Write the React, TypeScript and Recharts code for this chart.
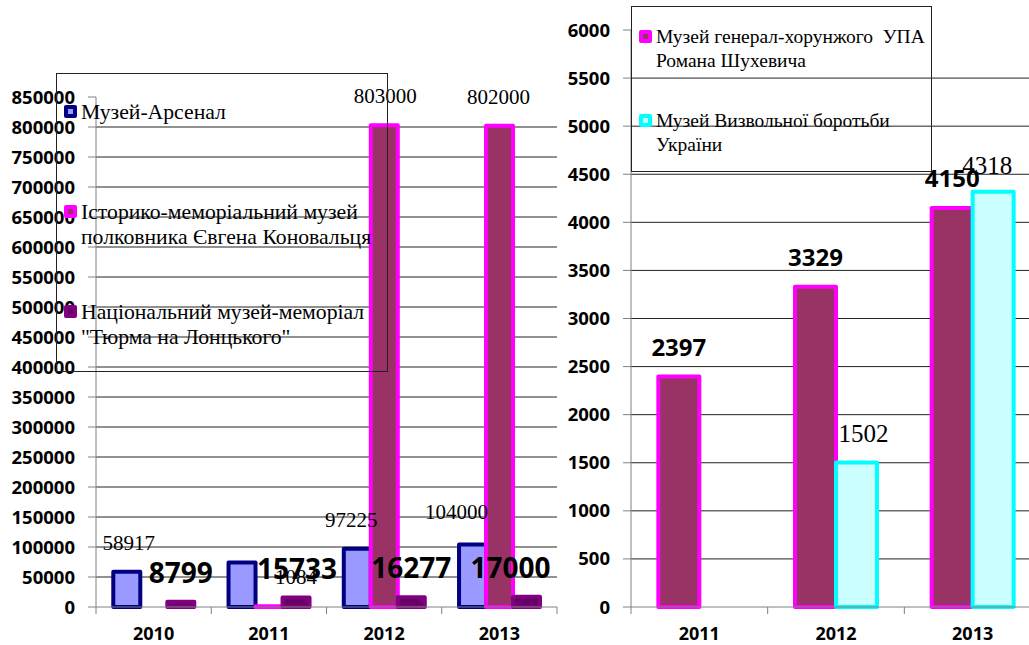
import React from "react";
import { BarChart, Bar, XAxis, YAxis, CartesianGrid, Legend, LabelList } from "recharts";

// left chart: visitors 2010-2013
const LEFT_YEARS = ["2010", "2011", "2012", "2013"];
const ARSENAL = [58917, 74000, 97225, 104000];
const KONOVALETS = [null, 1084, 803000, 802000];
const LONTSKOHO = [8799, 15733, 16277, 17000];
const LEFT_TICKS = [
  0, 50000, 100000, 150000, 200000, 250000, 300000, 350000, 400000, 450000,
  500000, 550000, 600000, 650000, 700000, 750000, 800000, 850000,
];

// right chart: 2011-2013
const RIGHT_YEARS = ["2011", "2012", "2013"];
const SHUKHEVYCH = [2397, 3329, 4150];
const VYZVOLNOI = [null, 1502, 4318];
const RIGHT_TICKS = [0, 500, 1000, 1500, 2000, 2500, 3000, 3500, 4000, 4500, 5000, 5500, 6000];

const NAMES = {
  arsenal: "Музей-Арсенал",
  konovalets: "Історико-меморіальний музей\nполковника Євгена Коновальця",
  lontskoho: "Національний музей-меморіал\n\"Тюрма на Лонцького\"",
  shukhevych: "Музей генерал-хорунжого  УПА\nРомана Шухевича",
  vyzvolnoi: "Музей Визвольної боротьби\nУкраїни",
};

const SERIES_VALUES: Record<string, (number | null)[]> = {
  arsenal: ARSENAL,
  konovalets: KONOVALETS,
  lontskoho: LONTSKOHO,
  shukhevych: SHUKHEVYCH,
  vyzvolnoi: VYZVOLNOI,
};

const leftData = LEFT_YEARS.map((year, i) => ({
  year,
  arsenal: ARSENAL[i],
  konovalets: KONOVALETS[i],
  lontskoho: LONTSKOHO[i],
}));

const rightData = RIGHT_YEARS.map((year, i) => ({
  year,
  shukhevych: SHUKHEVYCH[i],
  vyzvolnoi: VYZVOLNOI[i],
}));

const SANS = "'Open Sans', 'Liberation Sans', sans-serif";
const SERIF = "'Liberation Serif', 'Times New Roman', serif";
const AXIS_GREY = "#808080";

// layout
const LEFT_W = 580;
const LEFT_YAXIS_W = 96;
const LEFT_MARGIN = { top: 97, right: 23, left: 0, bottom: 0 };
const RIGHT_W = 491;
const RIGHT_YAXIS_W = 71;
const RIGHT_MARGIN = { top: 30, right: 10, left: 0, bottom: 0 };
const CHART_H = 645;

// hand-moved labels in the original (dx, dy), by category position
const NUDGE: Record<string, [number, number][]> = {
  arsenal: [[2, 0], [0, 0], [-6, 0], [-16, -4]],
  konovalets: [[0, 0], [27, 0], [1, 0], [-1, 0]],
  lontskoho: [[0, 0], [1, 0], [0, 0], [-16, 0]],
  shukhevych: [[0, 0], [0, 0], [0, 0]],
  vyzvolnoi: [[0, 0], [7, 0], [-6, 3]],
};

function makeLabel(key: string, bold: boolean, size: number, hide: number[] = []) {
  // eslint-disable-next-line @typescript-eslint/no-explicit-any
  return (props: any) => {
    const { x, y, width, value } = props;
    if (value == null) return null;
    // LabelList skips null points, so find the category from the value itself
    const cat = SERIES_VALUES[key].indexOf(Number(value));
    if (hide.includes(cat)) return null;
    const [dx, dy] = NUDGE[key]?.[cat] ?? [0, 0];
    const cap = size * (bold ? 0.714 : 0.66);
    return (
      <text
        x={Number(x) + Number(width) / 2 + dx}
        y={Number(y) - 29 + cap / 2 + dy}
        textAnchor="middle"
        fontFamily={bold ? SANS : SERIF}
        fontWeight={bold ? 700 : 400}
        fontSize={size}
        fill="#000"
      >
        {value}
      </text>
    );
  };
}

function makeXTick(band: number, count: number) {
  // eslint-disable-next-line @typescript-eslint/no-explicit-any
  return (props: any) => {
    const { x, y, payload, index } = props;
    return (
      <g>
        <line x1={x - band / 2} x2={x - band / 2} y1={y} y2={y + 7} stroke={AXIS_GREY} />
        {index === count - 1 && (
          <line x1={x + band / 2} x2={x + band / 2} y1={y} y2={y + 7} stroke={AXIS_GREY} />
        )}
        <text
          x={x}
          y={y + 33}
          textAnchor="middle"
          fontFamily={SANS}
          fontWeight={700}
          fontSize={18}
          fill="#000"
        >
          {payload.value}
        </text>
      </g>
    );
  };
}

interface LegendItem {
  name: string;
  stroke: string;
  fill: string;
}

function LegendBox({
  items,
  slot,
  padTop,
  fontSize,
  lineHeight,
}: {
  items: LegendItem[];
  slot: number;
  padTop: number;
  fontSize: number;
  lineHeight: number;
}) {
  return (
    <div
      style={{
        width: "100%",
        height: "100%",
        boxSizing: "border-box",
        border: "1px solid #222",
      }}
    >
      {items.map((it) => (
        <div
          key={it.name}
          style={{
            height: slot,
            boxSizing: "border-box",
            paddingTop: padTop,
            paddingLeft: 7,
            display: "flex",
            alignItems: "flex-start",
          }}
        >
          <div
            style={{
              width: 13,
              height: 13,
              marginTop: 5,
              marginRight: 4,
              flex: "none",
              borderRadius: 2,
              background: it.stroke,
              display: "flex",
              alignItems: "center",
              justifyContent: "center",
            }}
          >
            <div style={{ width: 5, height: 5, background: it.fill }} />
          </div>
          <span
            style={{
              whiteSpace: "pre",
              fontFamily: SERIF,
              fontSize,
              lineHeight: `${lineHeight}px`,
              color: "#000",
            }}
          >
            {it.name}
          </span>
        </div>
      ))}
    </div>
  );
}

const LEFT_SERIES: (LegendItem & { key: string })[] = [
  { key: "arsenal", name: NAMES.arsenal, stroke: "#000080", fill: "#9999FF" },
  { key: "konovalets", name: NAMES.konovalets, stroke: "#FF00FF", fill: "#993366" },
  { key: "lontskoho", name: NAMES.lontskoho, stroke: "#800080", fill: "#660066" },
];

const RIGHT_SERIES: (LegendItem & { key: string })[] = [
  { key: "shukhevych", name: NAMES.shukhevych, stroke: "#FF00FF", fill: "#993366" },
  { key: "vyzvolnoi", name: NAMES.vyzvolnoi, stroke: "#00FFFF", fill: "#CCFFFF" },
];

const tickStyle = { fontFamily: SANS, fontWeight: 700, fontSize: 18.5, fill: "#000" };

function LeftChart() {
  const band = (LEFT_W - LEFT_YAXIS_W - LEFT_MARGIN.right) / LEFT_YEARS.length;
  return (
    <BarChart
      width={LEFT_W}
      height={CHART_H}
      data={leftData}
      margin={LEFT_MARGIN}
      barGap={0}
      barCategoryGap="15%"
    >
      <CartesianGrid
        vertical={false}
        stroke="#222"
        horizontalValues={LEFT_TICKS.slice(1, -1)}
      />
      <XAxis
        dataKey="year"
        height={38}
        tickSize={0}
        tickMargin={0}
        tickLine={false}
        axisLine={{ stroke: AXIS_GREY }}
        tick={makeXTick(band, LEFT_YEARS.length)}
        interval={0}
      />
      <YAxis
        width={LEFT_YAXIS_W}
        domain={[0, 850000]}
        ticks={LEFT_TICKS}
        interval={0}
        tickSize={8}
        tickMargin={13}
        tick={tickStyle}
        axisLine={{ stroke: AXIS_GREY }}
        tickLine={{ stroke: AXIS_GREY }}
      />
      <Legend
        layout="vertical"
        align="center"
        verticalAlign="middle"
        wrapperStyle={{ left: 56, top: 73, width: 332, height: 299, margin: 0 }}
        content={() => (
          <LegendBox items={LEFT_SERIES} slot={100} padTop={25.5} fontSize={21.7} lineHeight={25} />
        )}
      />
      {LEFT_SERIES.map((s) => (
        <Bar
          key={s.key}
          dataKey={s.key}
          name={s.name}
          fill={s.fill}
          stroke={s.stroke}
          strokeWidth={4}
          strokeLinejoin="round"
          isAnimationActive={false}
        >
          <LabelList
            dataKey={s.key}
            content={
              s.key === "lontskoho"
                ? makeLabel(s.key, true, 28)
                : makeLabel(s.key, false, 21, s.key === "arsenal" ? [1] : [])
            }
          />
        </Bar>
      ))}
    </BarChart>
  );
}

function RightChart() {
  const band = (RIGHT_W - RIGHT_YAXIS_W - RIGHT_MARGIN.right) / RIGHT_YEARS.length;
  return (
    <BarChart
      width={RIGHT_W}
      height={CHART_H}
      data={rightData}
      margin={RIGHT_MARGIN}
      barGap={0}
      barCategoryGap="20%"
    >
      <CartesianGrid
        vertical={false}
        stroke="#222"
        horizontalValues={RIGHT_TICKS.slice(1, -1)}
      />
      <XAxis
        dataKey="year"
        height={38}
        tickSize={0}
        tickMargin={0}
        tickLine={false}
        axisLine={{ stroke: AXIS_GREY }}
        tick={makeXTick(band, RIGHT_YEARS.length)}
        interval={0}
      />
      <YAxis
        width={RIGHT_YAXIS_W}
        domain={[0, 6000]}
        ticks={RIGHT_TICKS}
        interval={0}
        tickSize={8}
        tickMargin={13}
        tick={tickStyle}
        axisLine={{ stroke: AXIS_GREY }}
        tickLine={{ stroke: AXIS_GREY }}
      />
      <Legend
        layout="vertical"
        align="center"
        verticalAlign="middle"
        wrapperStyle={{ left: 71, top: 6, width: 301, height: 166, margin: 0 }}
        content={() => (
          <LegendBox items={RIGHT_SERIES} slot={84} padTop={18} fontSize={19.5} lineHeight={24} />
        )}
      />
      {RIGHT_SERIES.map((s) => (
        <Bar
          key={s.key}
          dataKey={s.key}
          name={s.name}
          fill={s.fill}
          stroke={s.stroke}
          strokeWidth={4}
          strokeLinejoin="round"
          isAnimationActive={false}
        >
          <LabelList
            dataKey={s.key}
            content={
              s.key === "shukhevych" ? makeLabel(s.key, true, 24) : makeLabel(s.key, false, 25)
            }
          />
        </Bar>
      ))}
    </BarChart>
  );
}

export default function App() {
  return (
    <div
      style={{
        position: "fixed",
        left: 0,
        top: 0,
        width: 1029,
        height: 645,
        overflow: "hidden",
        background: "#fff",
      }}
    >
      <div style={{ position: "absolute", left: 0, top: 0 }}>
        <LeftChart />
      </div>
      <div style={{ position: "absolute", left: 560, top: 0 }}>
        <RightChart />
      </div>
    </div>
  );
}
